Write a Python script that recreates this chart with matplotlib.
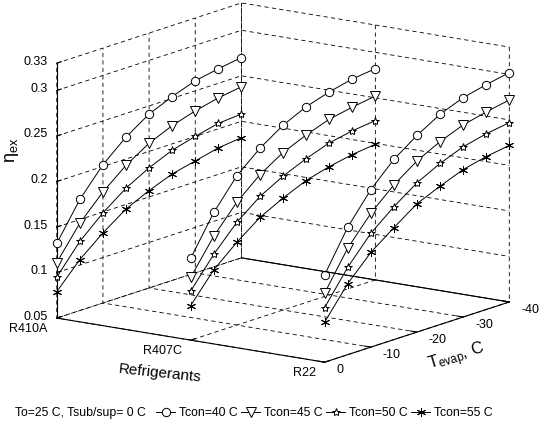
import matplotlib
matplotlib.use('Agg')
import matplotlib.pyplot as plt
from matplotlib.lines import Line2D
from matplotlib.transforms import IdentityTransform
from mpl_toolkits.mplot3d import proj3d

plt.rcParams['font.family'] = ['Liberation Sans', 'DejaVu Sans']
plt.rcParams['mathtext.fontset'] = 'custom'
plt.rcParams['mathtext.rm'] = 'Liberation Sans'
plt.rcParams['mathtext.it'] = 'Liberation Sans'
plt.rcParams['axes.unicode_minus'] = False
plt.rcParams['grid.color'] = 'k'
plt.rcParams['grid.linestyle'] = (0, (5, 4))
plt.rcParams['grid.linewidth'] = 0.6

# ---------------- data ----------------
refrigerants = ['R410A', 'R407C', 'R22']
t_evap = [0, -5, -10, -15, -20, -25, -30, -35, -40]
t_con = [40, 45, 50, 55]

eta_R410A = [
    [0.132, 0.172, 0.202, 0.224, 0.241, 0.252, 0.261, 0.266, 0.270],
    [0.111, 0.146, 0.172, 0.193, 0.209, 0.220, 0.228, 0.234, 0.238],
    [0.095, 0.126, 0.149, 0.168, 0.182, 0.193, 0.200, 0.206, 0.208],
    [0.079, 0.106, 0.127, 0.145, 0.157, 0.167, 0.173, 0.179, 0.182],
]
eta_R407C = [
    [0.140, 0.182, 0.214, 0.236, 0.253, 0.265, 0.273, 0.279, 0.282],
    [0.119, 0.156, 0.185, 0.207, 0.223, 0.234, 0.243, 0.248, 0.252],
    [0.104, 0.136, 0.163, 0.183, 0.197, 0.208, 0.217, 0.222, 0.225],
    [0.088, 0.119, 0.141, 0.160, 0.173, 0.184, 0.191, 0.196, 0.199],
]
eta_R22 = [
    [0.146, 0.190, 0.223, 0.248, 0.266, 0.281, 0.291, 0.297, 0.302],
    [0.126, 0.167, 0.197, 0.220, 0.238, 0.251, 0.261, 0.267, 0.272],
    [0.110, 0.146, 0.175, 0.196, 0.214, 0.227, 0.237, 0.243, 0.247],
    [0.094, 0.128, 0.154, 0.173, 0.191, 0.202, 0.212, 0.218, 0.222],
]
eta_all = [eta_R410A, eta_R407C, eta_R22]

z_ticks = [0.05, 0.1, 0.15, 0.2, 0.25, 0.3, 0.33]
z_ticklabels = ['0.05', '0.1', '0.15', '0.2', '0.25', '0.3', '0.33']
t_ticks = [0, -10, -20, -30, -40]
legend_note = 'To=25 C, Tsub/sup= 0 C'

# ---------------- style ----------------
markers = ['o', 'v', '*', (6, 2, 0)]
msizes = [6, 7.5, 6, 6.5]

fig = plt.figure(figsize=(5.51, 4.29), dpi=100)
ax = fig.add_axes([0.004, 0.102, 1.0, 0.92], projection='3d')
ax.set_proj_type('ortho')
ax.view_init(elev=13.4, azim=35.4)
ax.set_box_aspect((1, 1.031, 0.822), zoom=1.2975)

for ri, eta_ref in enumerate(eta_all):
    for ci, eta in enumerate(eta_ref):
        ax.plot(t_evap, [ri] * len(t_evap), eta, color='k', lw=0.7,
                marker=markers[ci], ms=msizes[ci], mfc='white', mec='k',
                mew=0.7, clip_on=False)

xmin, xmax = min(t_ticks), max(t_ticks)
ymin, ymax = 0, len(refrigerants) - 1
zmin, zmax = min(z_ticks), max(z_ticks)
ax.set_xlim(xmin, xmax)
ax.set_ylim(ymin, ymax)
ax.set_zlim(zmin, zmax)

# solid back floor edge
ax.plot([xmin, xmin], [ymin, ymax], [zmin, zmin], color='k', lw=0.8,
        clip_on=False)

ax.set_xticks(t_ticks)
ax.set_yticks(range(len(refrigerants)))
ax.set_zticks(z_ticks)
ax.set_xticklabels([])
ax.set_yticklabels([])
ax.set_zticklabels([])

for axis in (ax.xaxis, ax.yaxis, ax.zaxis):
    axis.pane.fill = False
    axis.pane.set_edgecolor('none')
    axis.line.set_color('k')
    axis.line.set_linewidth(0.8)
    axis._axinfo['tick']['inward_factor'] = 0.0
    axis._axinfo['tick']['outward_factor'] = 0.3
    for tk in axis.get_major_ticks():
        tk.label1.set_visible(False)
        tk.label2.set_visible(False)

# draw once so the 3D projection and axes position are final
fig.canvas.draw()
M = ax.get_proj()
ident = IdentityTransform()


def tick_text(x, y, z, s, dx, dy, ha, va, fs=9):
    px, py, _ = proj3d.proj_transform(x, y, z, M)
    X, Y = ax.transData.transform((px, py))
    fig.text(X + dx, Y + dy, s, transform=ident, ha=ha, va=va,
             fontsize=fs, color='k')


for zt, zl in zip(z_ticks, z_ticklabels):
    tick_text(xmax, ymin, zt, zl, -9, 1.5, 'right', 'center')
for i, name in enumerate(refrigerants):
    tick_text(xmax, i, zmin, name, -9, -4.5, 'right', 'top')
for t in t_ticks:
    tick_text(t, ymax, zmin, str(t), 12, -8, 'left', 'center')

fig.text(0.022, 0.65, r'$\eta_{ex}$', rotation=90, fontsize=13, ha='center', va='center')
fig.text(0.29, 0.1305, 'Refrigerants', rotation=-6, fontsize=11, ha='center', va='center')
fig.text(0.829, 0.1655, r'T$_{evap}$, C', rotation=17, fontsize=12, ha='center', va='center')

fig.text(0.027, 0.037, legend_note, fontsize=8.8, ha='left', va='center')
handles = [Line2D([], [], color='k', lw=0.7, marker=markers[i], ms=msizes[i],
                  mfc='white', mec='k', mew=0.7) for i in range(4)]
labels = ['Tcon=%d C' % t for t in t_con]
fig.legend(handles, labels, loc='center left', bbox_to_anchor=(0.275, 0.037),
           ncol=4, frameon=False, fontsize=8.8, handlelength=1.5,
           handletextpad=0.35, columnspacing=0.3, borderaxespad=0)

fig.savefig('out.png', dpi=100)
